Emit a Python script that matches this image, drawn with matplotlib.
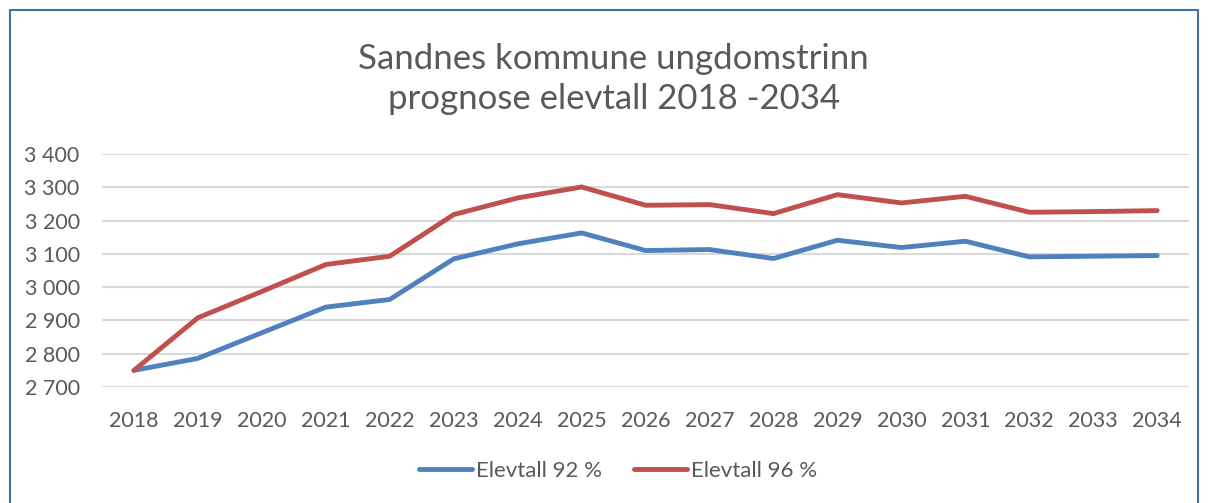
import matplotlib
matplotlib.use("Agg")
import matplotlib.pyplot as plt
from matplotlib.ticker import FuncFormatter
from matplotlib.patches import Rectangle

years = list(range(2018, 2035))
elev_92 = [2750, 2786, 2863, 2940, 2963, 3085, 3130, 3163, 3110, 3113, 3086, 3141, 3119, 3138, 3091, 3093, 3095]
elev_96 = [2750, 2908, 2987, 3068, 3093, 3218, 3268, 3301, 3246, 3248, 3221, 3278, 3253, 3273, 3225, 3227, 3230]

plt.rcParams['font.family'] = ['Lato', 'DejaVu Sans']
txt = '#595959'

fig = plt.figure(figsize=(12.08, 5.03), dpi=100)
ax = fig.add_axes([0.0844, 0.2306, 0.900, 0.4632])

ax.plot(years, elev_92, color='#4F81BD', lw=3.5, solid_capstyle='round', label='Elevtall 92 %')
ax.plot(years, elev_96, color='#C0504D', lw=3.5, solid_capstyle='round', label='Elevtall 96 %')

ax.set_xlim(2017.5, 2034.5)
ax.set_ylim(2700, 3400)
ax.set_yticks(range(2700, 3401, 100))
ax.yaxis.set_major_formatter(FuncFormatter(lambda v, p: f"{int(v):,}".replace(',', ' ')))
ax.set_xticks(years)
ax.grid(axis='y', color='#D9D9D9', lw=1.5)
ax.set_axisbelow(True)
for s in ax.spines.values():
    s.set_visible(False)
ax.tick_params(length=0, labelsize=15.5, colors=txt)
ax.tick_params(axis='x', pad=17)
ax.tick_params(axis='y', pad=16)

fig.text(0.508, 0.843, 'Sandnes kommune ungdomstrinn\nprognose elevtall 2018 -2034',
         ha='center', va='center', fontsize=25, color=txt, linespacing=1.32)

fig.legend(loc='center', bbox_to_anchor=(0.5116, 0.064), ncol=2, frameon=False,
           fontsize=16, labelcolor=txt, handlelength=2.4, handletextpad=0.2,
           columnspacing=1.4)

fig.patches.append(Rectangle((10 / 1208, -0.1), 1188 / 1208, 1.1 - 10 / 503,
                             transform=fig.transFigure, fill=False,
                             edgecolor='#41719C', lw=1.5))

fig.savefig('out.png', dpi=100)
